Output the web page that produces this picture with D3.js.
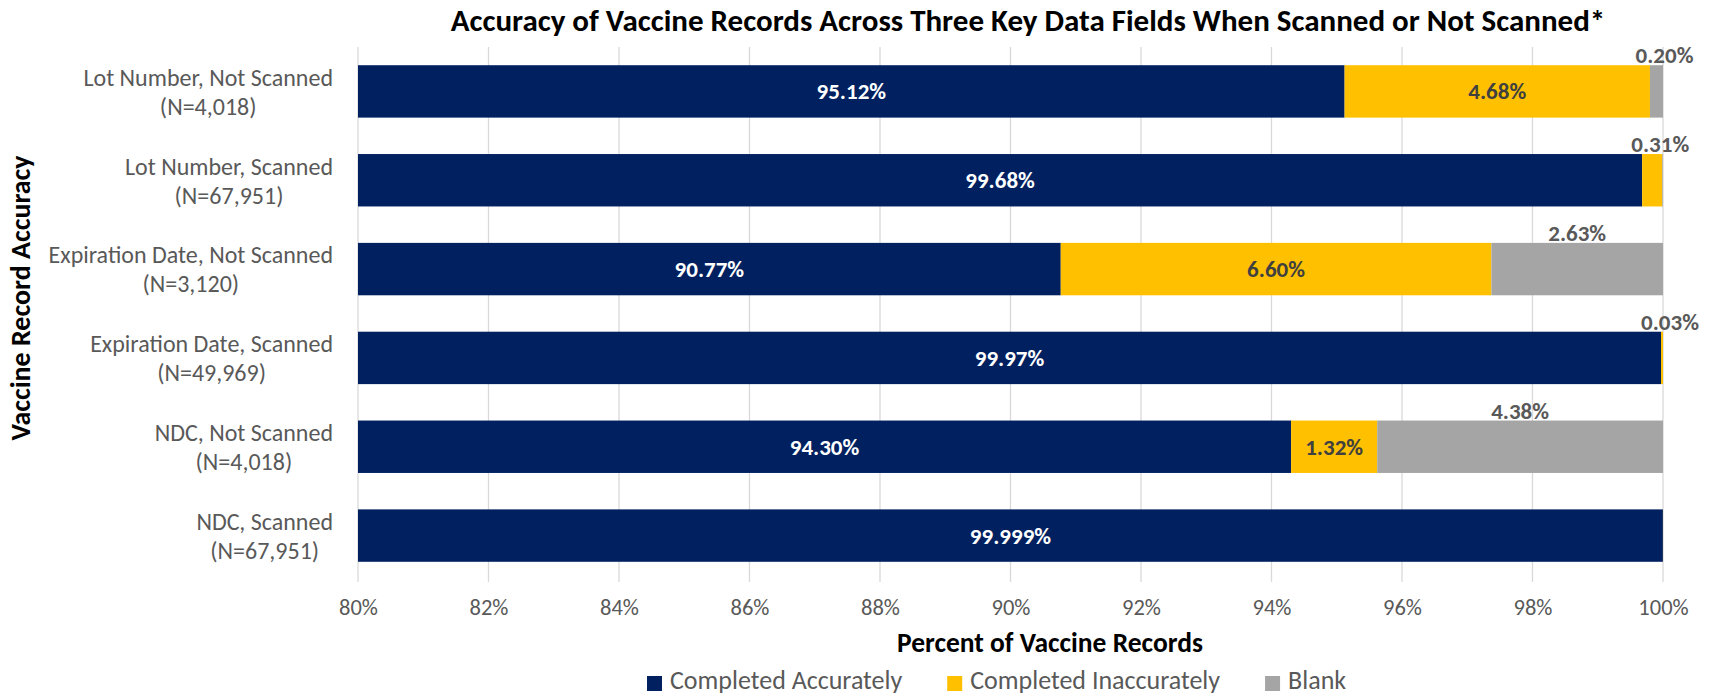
<!DOCTYPE html>
<html>
<head>
<meta charset="utf-8">
<script src="https://cdn.jsdelivr.net/npm/d3@7"></script>
<style>
  body { margin: 0; background: white; }
  text { font-family: Carlito, Lato, sans-serif; }
</style>
</head>
<body>
<script>
// data
const catNames = ['Lot Number, Not Scanned', 'Lot Number, Scanned', 'Expiration Date, Not Scanned',
                  'Expiration Date, Scanned', 'NDC, Not Scanned', 'NDC, Scanned']
const catN = ['(N=4,018)', '(N=67,951)', '(N=3,120)', '(N=49,969)', '(N=4,018)', '(N=67,951)']
const accurate = [95.12, 99.68, 90.77, 99.97, 94.30, 99.999]
const inaccurate = [4.68, 0.31, 6.60, 0.03, 1.32, 0.001]
const blank = [0.20, 0.01, 2.63, 0, 4.38, 0]
const accLabels = ['95.12%', '99.68%', '90.77%', '99.97%', '94.30%', '99.999%']
const inaccLabels = ['4.68%', '0.31%', '6.60%', '0.03%', '1.32%', '']
const blankLabels = ['0.20%', '', '2.63%', '', '4.38%', '']
const seriesNames = ['Completed Accurately', 'Completed Inaccurately', 'Blank']
const xTicks = [80, 82, 84, 86, 88, 90, 92, 94, 96, 98, 100]

const keys = ['acc', 'inacc', 'blank']
const colors = {acc: '#002060', inacc: '#FFC000', blank: '#A5A5A5'}
const labelColors = {acc: '#ffffff', inacc: '#404040', blank: '#404040'}
const labelText = {acc: accLabels, inacc: inaccLabels, blank: blankLabels}

const rows = catNames.map((c, i) => ({cat: c, acc: accurate[i], inacc: inaccurate[i], blank: blank[i]}))

const width = 1715, height = 696
const svg = d3.select('body').append('svg')
    .attr('width', width)
    .attr('height', height)

const x = d3.scaleLinear().domain([80, 100]).range([358, 1663])
const y = d3.scaleBand().domain(catNames).range([47, 580])
    .paddingInner(0.41).paddingOuter(0.205)

// gridlines
svg.append('g')
    .selectAll('line')
    .data(xTicks)
    .join('line')
    .attr('x1', d => x(d)).attr('x2', d => x(d))
    .attr('y1', 47).attr('y2', 582)
    .attr('stroke', '#d9d9d9')
    .attr('stroke-width', 1.3)

// x axis labels
let xAxis = svg.append('g')
    .attr('transform', `translate(0, 596)`)
    .call(d3.axisBottom(x).tickValues(xTicks).tickSize(0).tickFormat(d => d + '%'))
xAxis.select('.domain').remove()
xAxis.selectAll('text')
    .attr('font-size', '22.5px')
    .attr('fill', '#595959')
    .style('font-family', 'Carlito, Lato, sans-serif')

// bars
const stacked = d3.stack().keys(keys)(rows)

const layers = svg.append('g')
    .selectAll('g')
    .data(stacked)
    .join('g')
    .attr('fill', d => colors[d.key])

layers.selectAll('rect')
    .data(d => d)
    .join('rect')
    .attr('x', d => x(Math.max(80, d[0])))
    .attr('y', d => y(d.data.cat))
    .attr('width', d => Math.max(0, x(d[1]) - x(Math.max(80, d[0]))))
    .attr('height', y.bandwidth())

// data labels
stacked.forEach(layer => {
    const key = layer.key
    layer.forEach((d, i) => {
        const txt = labelText[key][i]
        if (!txt) return
        const x0 = x(Math.max(80, d[0])), x1 = x(d[1])
        const w = x1 - x0
        const cx = (x0 + x1) / 2
        const top = y(d.data.cat)
        const t = svg.append('text')
            .attr('font-size', '23px')
            .attr('font-weight', 'bold')
            .attr('text-anchor', 'middle')
        if (key === 'blank' || w < 40) {
            // above the bar
            t.attr('x', w < 40 ? cx + 8 : cx)
             .attr('y', top - 2)
             .attr('fill', '#595959')
        } else {
            t.attr('x', cx)
             .attr('y', top + y.bandwidth() / 2)
             .attr('dy', '0.35em')
             .attr('fill', labelColors[key])
        }
        t.text(txt)
    })
})

// category labels
catNames.forEach((c, i) => {
    const cy = y(c) + y.bandwidth() / 2
    const g = svg.append('g')
    const t1 = g.append('text').attr('font-size', '24px').attr('fill', '#595959')
        .attr('y', cy - 14).attr('dy', '0.35em').text(c)
    const t2 = g.append('text').attr('font-size', '24px').attr('fill', '#595959')
        .attr('y', cy + 15).attr('dy', '0.35em').text(catN[i])
    const w = Math.max(t1.node().getComputedTextLength(), t2.node().getComputedTextLength())
    const mid = 333 - w / 2
    t1.attr('x', mid).attr('text-anchor', 'middle')
    t2.attr('x', mid).attr('text-anchor', 'middle')
})

// titles
svg.append('text')
    .attr('x', 1028)
    .attr('y', 20)
    .attr('dy', '0.35em')
    .attr('text-anchor', 'middle')
    .attr('font-size', '31px')
    .attr('font-weight', 'bold')
    .text('Accuracy of Vaccine Records Across Three Key Data Fields When Scanned or Not Scanned*')

svg.append('text')
    .attr('x', 1050)
    .attr('y', 642)
    .attr('dy', '0.35em')
    .attr('text-anchor', 'middle')
    .attr('font-size', '27.5px')
    .attr('font-weight', 'bold')
    .text('Percent of Vaccine Records')

svg.append('text')
    .attr('transform', 'translate(20, 298) rotate(-90)')
    .attr('dy', '0.35em')
    .attr('text-anchor', 'middle')
    .attr('font-size', '28px')
    .attr('font-weight', 'bold')
    .text('Vaccine Record Accuracy')

// legend
const legend = svg.append('g')
let lx = 647
seriesNames.forEach((s, i) => {
    legend.append('rect')
        .attr('x', lx).attr('y', 676)
        .attr('width', 15).attr('height', 15)
        .attr('fill', colors[keys[i]])
    const t = legend.append('text')
        .attr('x', lx + 23).attr('y', 689)
        .attr('font-size', '26px')
        .attr('fill', '#595959')
        .text(s)
    lx += 23 + t.node().getComputedTextLength() + 45
})
</script>
</body>
</html>
